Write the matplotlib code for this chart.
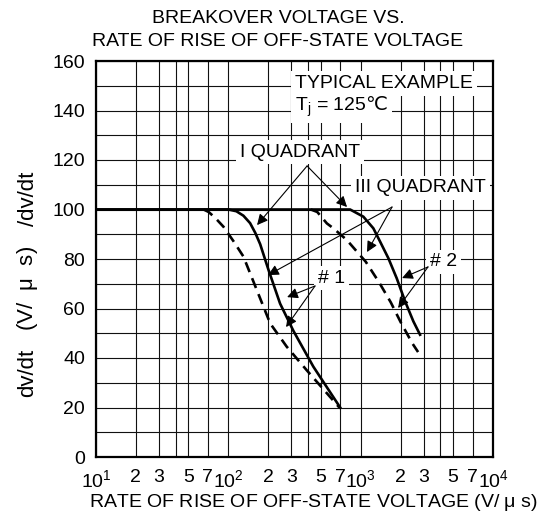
import matplotlib
matplotlib.use("Agg")
import matplotlib.pyplot as plt
from matplotlib.ticker import FixedLocator, FixedFormatter

plt.rcParams['font.family'] = ['Liberation Sans', 'DejaVu Sans']
plt.rcParams['mathtext.fontset'] = 'custom'
plt.rcParams['mathtext.rm'] = 'Liberation Sans'
plt.rcParams['mathtext.it'] = 'Liberation Sans:italic'
plt.rcParams['mathtext.sf'] = 'DejaVu Sans'
plt.rcParams['mathtext.default'] = 'regular'

# ---- data ----
solid1_x = [10, 100, 115, 130, 146, 160, 174, 200, 246, 310, 439, 700]
solid1_y = [100, 100, 99.3, 97.5, 94.5, 90.5, 86, 76, 62, 51, 36.5, 20]

dashed1_x = [65, 71, 80, 92, 110, 130, 164, 207, 276, 392, 690]
dashed1_y = [100, 99, 96.5, 93, 87, 81, 67.5, 54, 44.6, 35, 20]

solid2_x = [10, 832, 1048, 1247, 1403, 1620, 1873, 2166, 2502, 2810]
solid2_y = [100, 100, 97.1, 92.4, 87, 80.3, 72.2, 62.9, 54.8, 49.4]

dashed2_x = [420, 470, 555, 622, 785, 1092, 1377, 1688, 2009, 2459, 2716]
dashed2_y = [100, 99, 94.4, 92.4, 87.7, 78.9, 70.6, 62.5, 54.4, 45.9, 42.4]

x_major = [10, 100, 1000, 10000]
x_major_labels = [r'$10^{1}$', r'$10^{2}$', r'$10^{3}$', r'$10^{4}$']
x_minor_mult = [2, 3, 4, 5, 7]
x_minor_lbl = ['2', '3', '', '5', '7']
y_ticks = list(range(0, 161, 20))
y_grid = list(range(0, 161, 10))

title_lines = ["BREAKOVER VOLTAGE VS.", "RATE OF RISE OF OFF-STATE VOLTAGE"]
xlabel = r"RATE OF RISE OF OFF-STATE VOLTAGE (V/ $\mu$ s)"
ylabel_parts = ["dv/dt", r"(V/  $\mu$  s)", "/dv/dt"]

W, H = 545, 528
fig = plt.figure(figsize=(W / 100, H / 100), dpi=100)
L, R, T, B = 96, 493, 61, 457
ax = fig.add_axes([L / W, 1 - B / H, (R - L) / W, (B - T) / H])
ax.set_xscale('log')
ax.set_xlim(10, 10000)
ax.set_ylim(0, 160)

# grid
minor_pos = []
minor_labels = []
for dec in [10, 100, 1000]:
    for m, lb in zip(x_minor_mult, x_minor_lbl):
        minor_pos.append(dec * m)
        minor_labels.append(lb)
for xv in x_major + minor_pos:
    ax.axvline(xv, color='#111111', lw=0.8, zorder=1)
for yv in y_grid:
    ax.axhline(yv, color='#111111', lw=0.8, zorder=1)

ax.xaxis.set_major_locator(FixedLocator(x_major))
ax.xaxis.set_major_formatter(FixedFormatter(x_major_labels))
ax.xaxis.set_minor_locator(FixedLocator(minor_pos))
ax.xaxis.set_minor_formatter(FixedFormatter(minor_labels))
ax.set_yticks(y_ticks)
ax.tick_params(axis='both', which='both', length=0, labelsize=14, colors='black')
ax.tick_params(axis='x', which='both', pad=9)
ax.tick_params(axis='y', pad=8)
for sp in ax.spines.values():
    sp.set_linewidth(1.6)
    sp.set_zorder(5)

# curves
lw = 1.9
ax.plot(solid1_x, solid1_y, color='black', lw=lw, zorder=3)
ax.plot(solid2_x, solid2_y, color='black', lw=lw, zorder=3)
ax.plot(dashed1_x, dashed1_y, color='black', lw=lw, ls=(0, (4, 2.5)), zorder=3)
ax.plot(dashed2_x, dashed2_y, color='black', lw=lw, ls=(0, (4, 2.5)), zorder=3)

# text labels with white boxes
box = dict(facecolor='white', edgecolor='none', boxstyle='square,pad=0.2')
def label(x, y, s):
    ax.text(x, y, s, fontsize=14, ha='left', va='center', bbox=box, zorder=4)

label(319, 151, "TYPICAL EXAMPLE")
label(319, 141.5, r"T$_{j}$ = 125$\mathsf{℃}$")
label(122.5, 123.2, "I QUADRANT")
label(908, 108.7, "III QUADRANT")
label(476, 72.3, "# 1")
label(3350, 78.8, "# 2")

# arrows
arrows = [
    ((393.7, 117.6), (164.8, 93.7)),
    ((393.7, 117.6), (789, 101)),
    ((1726, 101), (1117, 82.8)),
    ((1726, 101), (199.5, 73.5)),
    ((452, 69.1), (278, 64.6)),
    ((452, 69.1), (273, 52.5)),
    ((3228, 76.8), (2056, 72.3)),
    ((3228, 76.8), (1918, 60.2)),
]
for start, tip in arrows:
    ax.annotate('', xy=tip, xytext=start,
                arrowprops=dict(arrowstyle='-|>', lw=0.8, color='black',
                                mutation_scale=16, shrinkA=0, shrinkB=0),
                zorder=6)

# titles / axis labels
fig.text(278 / W, 1 - 23.3 / H, title_lines[0], ha='center', va='baseline', fontsize=14)
fig.text(278 / W, 1 - 45.7 / H, title_lines[1], ha='center', va='baseline', fontsize=14)
fig.text(313 / W, 1 - 507 / H, xlabel, ha='center', va='baseline', fontsize=14)
for part, cy in zip(ylabel_parts, [373, 288, 199]):
    fig.text(28 / W, 1 - cy / H, part, ha='center', va='center', rotation=90, fontsize=16)

fig.savefig('out.png', dpi=100)
